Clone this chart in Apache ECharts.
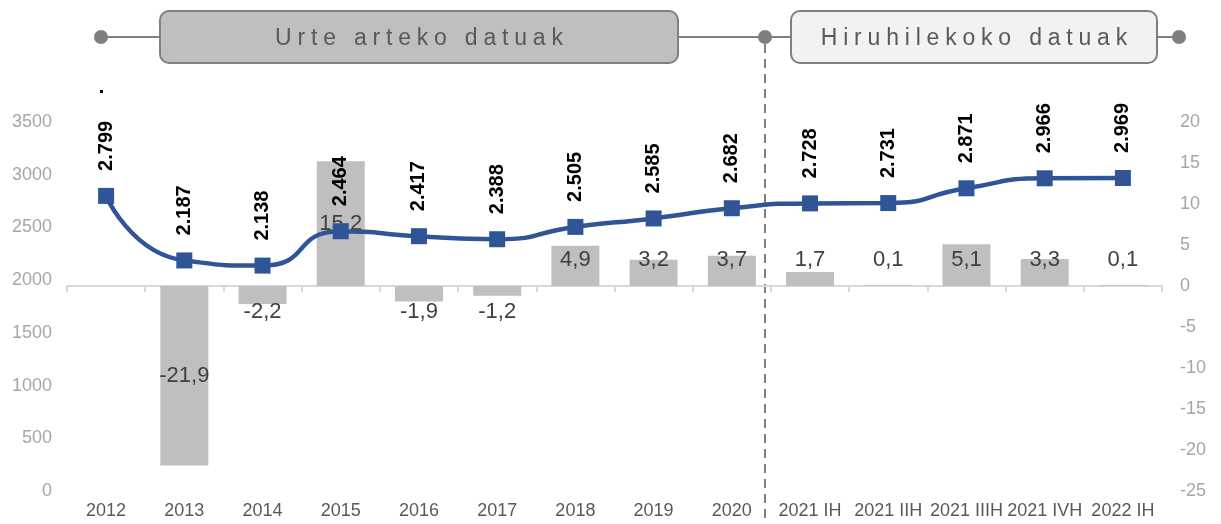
<!DOCTYPE html>
<html>
<head>
<meta charset="utf-8">
<script src="https://cdn.jsdelivr.net/npm/echarts@6/dist/echarts.min.js"></script>
<style>
  html, body { margin: 0; padding: 0; background: #fff; }
  #wrap { position: relative; width: 1221px; height: 524px; }
  #chart { position: absolute; left: 0; top: 0; width: 1221px; height: 524px; }
  .tag {
    position: absolute; top: 11px; height: 52px; line-height: 52px;
    font-family: "Liberation Sans", Arial, sans-serif; font-size: 23px;
    color: #595959; letter-spacing: 5.8px; text-align: center;
    white-space: nowrap; pointer-events: none;
  }
</style>
</head>
<body>
<div id="wrap">
  <div id="chart"></div>
  <div class="tag" style="left:160px;width:518px;padding-left:5.8px;box-sizing:border-box;">Urte arteko datuak</div>
  <div class="tag" style="left:791px;width:366px;padding-left:5.8px;box-sizing:border-box;">Hiruhilekoko datuak</div>
</div>
<script>
  const categories = ['2012', '2013', '2014', '2015', '2016', '2017', '2018', '2019', '2020',
    '2021 IH', '2021 IIH', '2021 IIIH', '2021 IVH', '2022 IH'];
  // urteko / hiruhilekoko aldakuntza (%), eskuineko ardatza
  const changeValues = [null, -21.9, -2.2, 15.2, -1.9, -1.2, 4.9, 3.2, 3.7, 1.7, 0.1, 5.1, 3.3, 0.1];
  // balioak, ezkerreko ardatza
  const levelValues = [2799, 2187, 2138, 2464, 2417, 2388, 2505, 2585, 2682, 2728, 2731, 2871, 2966, 2969];
  const leftTicks = { min: 0, max: 3500, interval: 500 };
  const rightTicks = { min: -25, max: 20, interval: 5 };

  const FONT = '"Liberation Sans", Arial, sans-serif';
  const chart = echarts.init(document.getElementById('chart'), null, { renderer: 'canvas' });

  const pxPerUnit = 369 / 45;
  function barLabelOffset(v) {
    if (v == null || Math.abs(v) > 10) return [0, 0];
    const half = Math.abs(v) * pxPerUnit / 2;
    return v >= 0 ? [0, -(26 - half)] : [0, 26 - half];
  }

  const barData = changeValues.map((v) => ({
    value: v,
    label: { offset: barLabelOffset(v) }
  }));

  const grey = '#7f7f7f';
  const graphic = [
    { type: 'line', shape: { x1: 101, y1: 37, x2: 160, y2: 37 }, style: { stroke: grey, lineWidth: 2 } },
    { type: 'line', shape: { x1: 678, y1: 37, x2: 791, y2: 37 }, style: { stroke: grey, lineWidth: 2 } },
    { type: 'line', shape: { x1: 1157, y1: 37, x2: 1179, y2: 37 }, style: { stroke: grey, lineWidth: 2 } },
    { type: 'line', shape: { x1: 765, y1: 44, x2: 765, y2: 524 }, style: { stroke: grey, lineWidth: 2, lineDash: [9, 6] } },
    { type: 'rect', shape: { x: 160, y: 11, width: 518, height: 52, r: 9 }, style: { fill: '#bfbfbf', stroke: grey, lineWidth: 2 } },
    { type: 'rect', shape: { x: 791, y: 11, width: 366, height: 52, r: 9 }, style: { fill: '#f2f2f2', stroke: grey, lineWidth: 2 } },
    { type: 'circle', shape: { cx: 101, cy: 37, r: 7 }, style: { fill: grey } },
    { type: 'circle', shape: { cx: 765, cy: 37, r: 7 }, style: { fill: grey } },
    { type: 'circle', shape: { cx: 1179, cy: 37, r: 7 }, style: { fill: grey } },
    { type: 'rect', shape: { x: 100, y: 90, width: 3, height: 3 }, style: { fill: '#000' } }
  ];

  chart.setOption({
    animation: false,
    textStyle: { fontFamily: FONT },
    grid: { left: 67, right: 59, top: 122, bottom: 33 },
    graphic: graphic,
    xAxis: [
      {
        type: 'category',
        data: categories,
        position: 'bottom',
        axisLine: { show: false, onZero: false },
        axisTick: { show: false },
        axisLabel: { color: '#595959', fontSize: 18, margin: 11, interval: 0 }
      },
      {
        type: 'category',
        data: categories,
        position: 'bottom',
        axisLine: { show: true, onZero: true, onZeroAxisIndex: 1, lineStyle: { color: '#d9d9d9', width: 2 } },
        axisTick: { show: true, length: 6, lineStyle: { color: '#d9d9d9', width: 2 } },
        axisLabel: { show: false }
      }
    ],
    yAxis: [
      {
        type: 'value',
        min: leftTicks.min, max: leftTicks.max, interval: leftTicks.interval,
        axisLine: { show: false },
        axisTick: { show: false },
        splitLine: { show: false },
        axisLabel: { color: '#a6a6a6', fontSize: 18, margin: 15, formatter: (v) => String(v) }
      },
      {
        type: 'value',
        min: rightTicks.min, max: rightTicks.max, interval: rightTicks.interval,
        axisLine: { show: false },
        axisTick: { show: false },
        splitLine: { show: false },
        axisLabel: { color: '#a6a6a6', fontSize: 18, margin: 18, formatter: (v) => String(v) }
      }
    ],
    series: [
      {
        type: 'bar',
        xAxisIndex: 0,
        yAxisIndex: 1,
        data: barData,
        barWidth: 48,
        itemStyle: { color: '#bfbfbf' },
        label: {
          show: true,
          position: 'inside',
          color: '#404040',
          fontSize: 22,
          formatter: (p) => (p.value == null ? '' : p.value.toFixed(1).replace('.', ','))
        }
      },
      {
        type: 'line',
        xAxisIndex: 0,
        yAxisIndex: 0,
        data: levelValues,
        smooth: 0.6,
        symbol: 'rect',
        symbolSize: 16,
        lineStyle: { color: '#2f5597', width: 4.5 },
        itemStyle: { color: '#2f5597' },
        z: 5,
        label: {
          show: true,
          position: 'top',
          distance: 17,
          rotate: 90,
          align: 'left',
          verticalAlign: 'middle',
          color: '#000',
          fontWeight: 'bold',
          fontSize: 20,
          formatter: (p) => String(p.value).replace(/\B(?=(\d{3})+(?!\d))/g, '.')
        }
      }
    ]
  });
</script>
</body>
</html>
